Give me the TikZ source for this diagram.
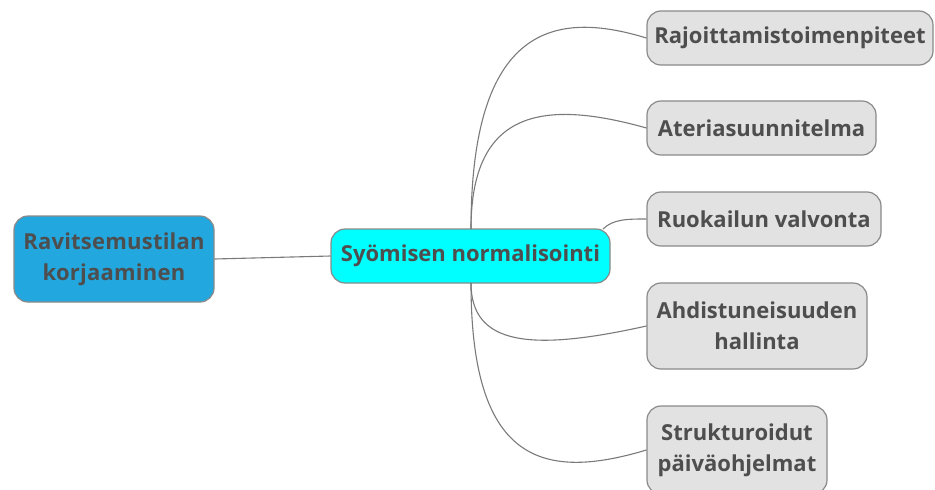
\documentclass[tikz,border=0pt]{standalone}
\usepackage{fontspec}
\setmainfont{Open Sans}[BoldFont={* Bold}]
\newfontfamily\rootfont{Open Sans}[BoldFont={* Bold},LetterSpace=1]
\definecolor{txt}{HTML}{4E4E4E}
\definecolor{edge}{HTML}{7A7A7A}
\definecolor{rootfill}{HTML}{22A7DF}
\definecolor{midfill}{HTML}{00FFFF}
\definecolor{leaffill}{HTML}{E2E2E2}
\definecolor{boxline}{HTML}{8A8A8A}
\begin{document}
\begin{tikzpicture}[x=1pt,y=-1pt,
  box/.style={draw=boxline, line width=1.2pt, rounded corners=14pt,
    text=txt, font=\bfseries\fontsize{22}{31}\selectfont, align=center,
    inner sep=0pt},
  leaf/.style={box, fill=leaffill},
  link/.style={draw=edge, line width=1.1pt}]
\useasboundingbox (0,0) rectangle (935,490);

\node[box, fill=rootfill, minimum width=200pt, minimum height=86pt,
      font=\rootfont\bfseries\fontsize{22}{31}\selectfont]
  (root) at (114,259) {Ravitsemustilan\\korjaaminen};
\node[box, fill=midfill, minimum width=279pt, minimum height=54pt]
  (mid) at (470.5,256) {Syömisen normalisointi};

\node[leaf, minimum width=286pt, minimum height=54pt] (l1) at (790,38) {Rajoittamistoimenpiteet};
\node[leaf, minimum width=229pt, minimum height=54pt] (l2) at (761.5,128) {Ateriasuunnitelma};
\node[leaf, minimum width=234pt, minimum height=54pt] (l3) at (764,219) {Ruokailun valvonta};
\node[leaf, minimum width=220pt, minimum height=86pt] (l4) at (757,326) {Ahdistuneisuuden\\hallinta};
\node[leaf, minimum width=180pt, minimum height=88pt] (l5) at (737,450) {Strukturoidut\\päiväohjelmat};

% connectors
\draw[link] (root.east) -- (mid.west);
\coordinate (mt) at (471,229);
\coordinate (mb) at (471,283);
\coordinate (mc) at (603,229);
\draw[link] (mt) .. controls (471,25) and (555,10) .. (l1.west);
\draw[link] (mt) .. controls (471,112) and (540,98) .. (l2.west);
\draw[link] (mc) .. controls (613,219) and (628,219) .. (l3.west);
\draw[link] (mb) .. controls (471,345) and (530,352) .. (l4.west);
\draw[link] (mb) .. controls (471,460) and (540,482) .. (l5.west);
\end{tikzpicture}
\end{document}
